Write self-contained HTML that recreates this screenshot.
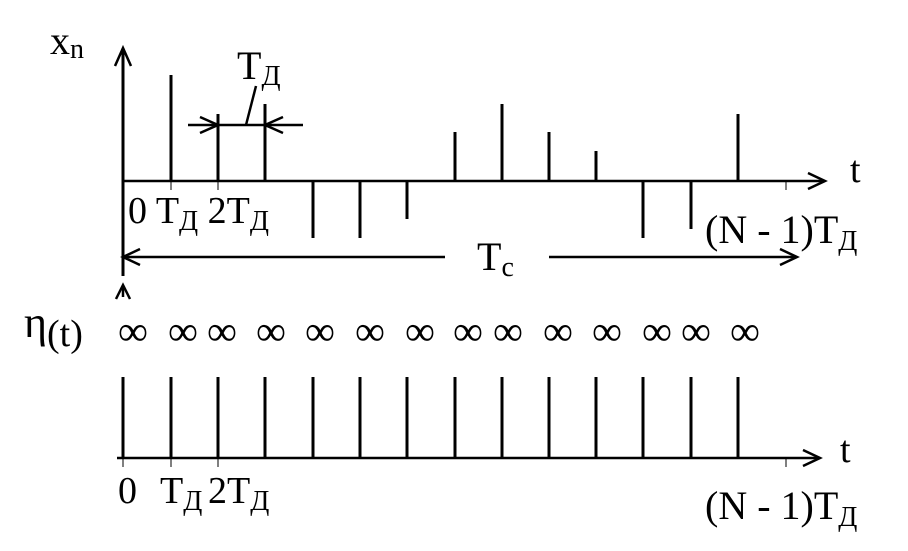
<!DOCTYPE html>
<html><head><meta charset="utf-8"><style>
html,body{margin:0;padding:0;background:#fff;}
svg{display:block;}
text{font-family:"Liberation Serif",serif;fill:#000;}
</style></head><body>
<svg width="908" height="551" viewBox="0 0 908 551" xmlns="http://www.w3.org/2000/svg">
<g stroke="#000" stroke-width="3" fill="none" stroke-linecap="butt">
<line x1="123" y1="48" x2="123" y2="276"/>
<polyline points="115,66 123,48 131,66" stroke-width="2.5"/>
<line x1="123" y1="181" x2="825" y2="181" stroke-width="2.5"/>
<polyline points="808,173 825,181 808,189" stroke-width="2.5"/>
<line x1="786" y1="182" x2="786" y2="190" stroke-width="1"/>
<line x1="171" y1="181" x2="171" y2="190" stroke-width="1"/>
<line x1="218" y1="181" x2="218" y2="190" stroke-width="1"/>
<line x1="123" y1="114" x2="123" y2="181"/>
<line x1="171" y1="75" x2="171" y2="181"/>
<line x1="218" y1="114" x2="218" y2="181"/>
<line x1="265" y1="104" x2="265" y2="181"/>
<line x1="313" y1="181" x2="313" y2="238"/>
<line x1="360" y1="181" x2="360" y2="238"/>
<line x1="407" y1="181" x2="407" y2="219"/>
<line x1="455" y1="132" x2="455" y2="181"/>
<line x1="502" y1="104" x2="502" y2="181"/>
<line x1="549" y1="132" x2="549" y2="181"/>
<line x1="596" y1="151" x2="596" y2="181"/>
<line x1="643" y1="181" x2="643" y2="238"/>
<line x1="691" y1="181" x2="691" y2="229"/>
<line x1="738" y1="114" x2="738" y2="181"/>
<line x1="188" y1="125" x2="303" y2="125" stroke-width="2.5"/>
<polyline points="200,117 218,125 200,133" stroke-width="2.5"/>
<polyline points="283,117 265,125 283,133" stroke-width="2.5"/>
<line x1="246" y1="125" x2="256" y2="86" stroke-width="2.5"/>
<line x1="123" y1="257" x2="445" y2="257" stroke-width="2.5"/>
<polyline points="140,249 123,257 140,265" stroke-width="2.5"/>
<line x1="549" y1="257" x2="797" y2="257" stroke-width="2.5"/>
<polyline points="780,249 797,257 780,265" stroke-width="2.5"/>
<polyline points="116,299 123,285 130,299" stroke-width="2.5"/>
<line x1="123" y1="285" x2="123" y2="297" stroke-width="2.5"/>
<line x1="117" y1="458" x2="820" y2="458" stroke-width="2.5"/>
<polyline points="803,450 820,458 803,466" stroke-width="2.5"/>
<line x1="786" y1="459" x2="786" y2="467" stroke-width="1"/>
<line x1="123" y1="459" x2="123" y2="467" stroke-width="1"/>
<line x1="171" y1="459" x2="171" y2="467" stroke-width="1"/>
<line x1="218" y1="459" x2="218" y2="467" stroke-width="1"/>
<line x1="123" y1="377" x2="123" y2="458"/>
<line x1="171" y1="377" x2="171" y2="458"/>
<line x1="218" y1="377" x2="218" y2="458"/>
<line x1="265" y1="377" x2="265" y2="458"/>
<line x1="313" y1="377" x2="313" y2="458"/>
<line x1="360" y1="377" x2="360" y2="458"/>
<line x1="407" y1="377" x2="407" y2="458"/>
<line x1="455" y1="377" x2="455" y2="458"/>
<line x1="502" y1="377" x2="502" y2="458"/>
<line x1="549" y1="377" x2="549" y2="458"/>
<line x1="596" y1="377" x2="596" y2="458"/>
<line x1="643" y1="377" x2="643" y2="458"/>
<line x1="691" y1="377" x2="691" y2="458"/>
<line x1="738" y1="377" x2="738" y2="458"/>
</g>
<text x="50" y="54" font-size="40">x<tspan font-size="28" dy="4">n</tspan></text>
<text x="237" y="79" font-size="40">T<tspan font-size="28" dy="6">Д</tspan></text>
<text x="850" y="182" font-size="38">t</text>
<text x="128" y="223" font-size="38">0 T<tspan font-size="28" dy="7">Д</tspan><tspan dy="-7"> 2T</tspan><tspan font-size="28" dy="7">Д</tspan></text>
<text x="705" y="243" font-size="40">(N - 1)T<tspan font-size="28" dy="7">Д</tspan></text>
<text x="477" y="270" font-size="40">T<tspan font-size="28" dy="6">c</tspan></text>
<text x="24" y="337" font-size="44">η<tspan font-size="38" dy="9">(t)</tspan></text>
<g font-size="42" text-anchor="middle">
<text x="133" y="345">∞</text><text x="183" y="345">∞</text><text x="222" y="345">∞</text>
<text x="271" y="345">∞</text><text x="320" y="345">∞</text><text x="370" y="345">∞</text>
<text x="420" y="345">∞</text><text x="468" y="345">∞</text><text x="508" y="345">∞</text>
<text x="558" y="345">∞</text><text x="607" y="345">∞</text><text x="657" y="345">∞</text>
<text x="696" y="345">∞</text><text x="745" y="345">∞</text>
</g>
<text x="840" y="462" font-size="38">t</text>
<text x="118" y="503" font-size="38">0</text>
<text x="160" y="503" font-size="38">T<tspan font-size="28" dy="7">Д</tspan></text>
<text x="208" y="503" font-size="38">2T<tspan font-size="28" dy="7">Д</tspan></text>
<text x="705" y="519" font-size="40">(N - 1)T<tspan font-size="28" dy="7">Д</tspan></text>
</svg>
</body></html>
